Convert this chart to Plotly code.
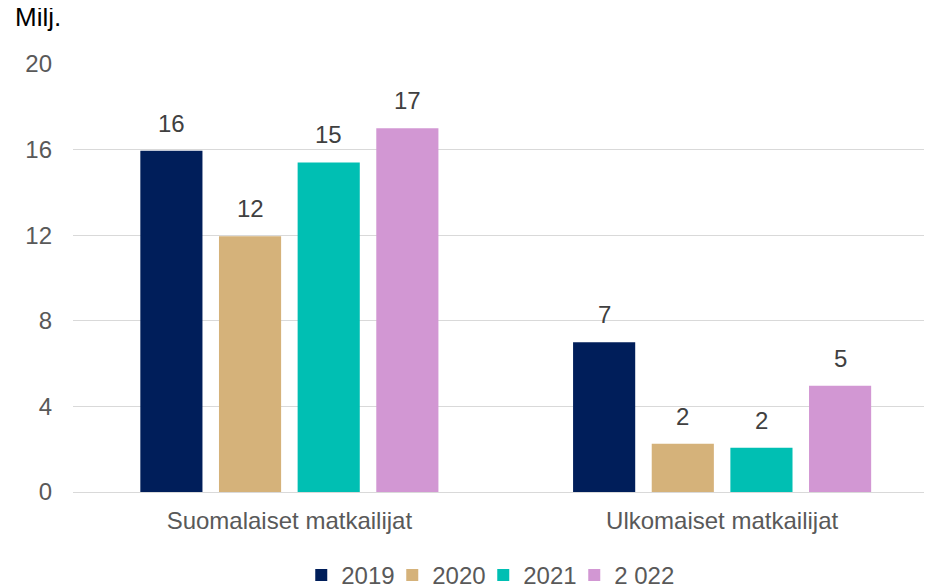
import plotly.graph_objects as go

categories = ["Suomalaiset matkailijat", "Ulkomaiset matkailijat"]
series_names = ["2019", "2020", "2021", "2 022"]
values_2019 = [15.95, 7.0]
values_2020 = [11.95, 2.25]
values_2021 = [15.4, 2.07]
values_2022 = [17.0, 4.97]
label_2019 = ["16", "7"]
label_2020 = ["12", "2"]
label_2021 = ["15", "2"]
label_2022 = ["17", "5"]
y_ticks = [0, 4, 8, 12, 16, 20]

all_values = [values_2019, values_2020, values_2021, values_2022]
all_labels = [label_2019, label_2020, label_2021, label_2022]
colors = ["#001E5A", "#D5B27A", "#00BFB3", "#D297D3"]
legend_widths = [46, 46, 46, None]

# page has an 8px body margin; figure is sized to fill the rest of the window
OFF = 8
W, H = 932 - OFF, 586 - OFF
ml, mr, mt = 72.5 - OFF, 0, 64 - OFF
plot_bottom = 492.5 - OFF
mb = H - plot_bottom
xrange_ = [-0.5, 1.485]
bargap = 0.273
bargroupgap = 0.21
FONT = "Liberation Sans, Arial"

fig = go.Figure()
for name, vals, col, lw in zip(series_names, all_values, colors, legend_widths):
    fig.add_trace(go.Bar(x=categories, y=vals, name=name, marker_color=col,
                         marker_line_width=0, hoverinfo="skip", legendwidth=lw))

plot_w = W - ml - mr
plot_h = H - mt - mb
cat_px = plot_w / (xrange_[1] - xrange_[0])
slot = cat_px * (1 - bargap) / len(series_names)
for i, (vals, labs) in enumerate(zip(all_values, all_labels)):
    shift = (i - (len(series_names) - 1) / 2) * slot
    for c, v, t in zip(categories, vals, labs):
        fig.add_annotation(x=c, y=v, text=t, showarrow=False, xref="x", yref="y",
                           xshift=shift, yshift=12, yanchor="bottom",
                           font=dict(family=FONT, size=24, color="#404040"))

fig.add_annotation(text="Milj.", xref="paper", yref="paper",
                   x=-(ml - (12 - OFF)) / plot_w, y=(plot_bottom - (17 - OFF)) / plot_h,
                   xanchor="left", yanchor="middle", showarrow=False,
                   font=dict(family=FONT, size=26, color="#000000"))

fig.update_layout(
    width=W, height=H,
    margin=dict(l=ml, r=mr, t=mt, b=mb, autoexpand=False),
    paper_bgcolor="white", plot_bgcolor="white",
    barmode="group", bargap=bargap, bargroupgap=bargroupgap,
    font=dict(family=FONT, size=24, color="#595959"),
    showlegend=True,
    legend=dict(orientation="h", x=(490.5 - OFF - ml) / plot_w, xanchor="center",
                y=(plot_bottom - (576 - OFF)) / plot_h, yanchor="middle",
                font=dict(size=24, color="#595959"), itemclick=False,
                traceorder="normal"),
    xaxis=dict(range=xrange_, showgrid=False, showline=False, ticks="",
               ticklabelstandoff=12, tickfont=dict(size=24, color="#595959")),
    yaxis=dict(range=[0, 20], tickvals=y_ticks, showgrid=True, gridcolor="#D9D9D9",
               gridwidth=1.3, zeroline=True, zerolinecolor="#D9D9D9", zerolinewidth=1.3,
               showline=False, ticks="", ticklabelstandoff=20,
               tickfont=dict(size=24, color="#595959")),
)

fig.write_html("out.html")
